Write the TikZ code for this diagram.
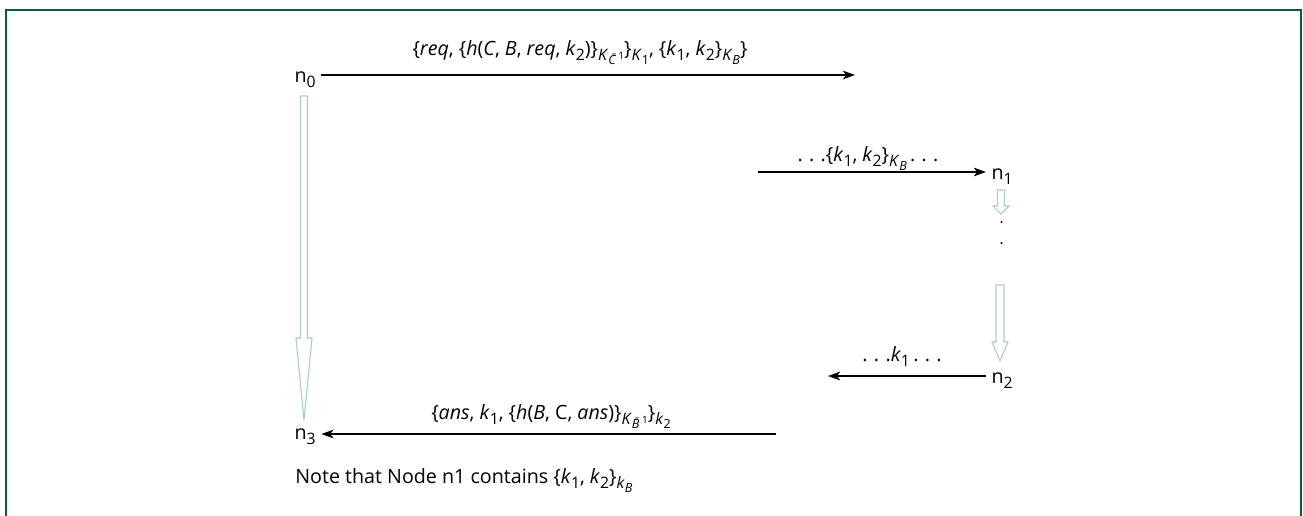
\documentclass[tikz,border=0pt]{standalone}
\usepackage{fontspec}
\setmainfont{Open Sans}
\usepackage{tikz}
\usetikzlibrary{arrows.meta, positioning}

\definecolor{framegreen}{HTML}{0B5C36}
\definecolor{hollowteal}{HTML}{A8CEC4}
\makeatletter
\newcommand{\tsub}[1]{\raisebox{-0.28em}{\fontsize{\fpeval{0.8*\f@size}}{0}\selectfont #1}}
\newcommand{\tsup}[1]{\raisebox{0.42em}{\fontsize{\fpeval{0.8*\f@size}}{0}\selectfont #1}}
\makeatother
\newcommand{\ddd}{.\hspace{.32em}.\hspace{.32em}.}

\begin{document}
\begin{tikzpicture}[x=0.02cm, y=-0.02cm, font=\fontsize{11.2}{13}\selectfont,
                msg/.style={line width=0.75pt, -{Stealth[length=7pt, width=5pt, inset=2pt]}},
                hollow/.style={draw=hollowteal, line width=0.6pt, fill=white},
                lbl/.style={anchor=base, inner sep=0pt},
                peer/.style={anchor=base west, inner xsep=3pt, inner ysep=1pt}]
                \useasboundingbox (0,0) rectangle (1303,515);

                % Frame
                \draw[framegreen, line width=1.15pt] (6,516) -- (6,10) -- (1301,10) -- (1301,516);

                % Nodes
                \node[peer] (n0) at (289,82) {n\tsub{0}};
                \node[peer] (n1) at (986,179) {n\tsub{1}};
                \node[peer] (n2) at (986,383) {n\tsub{2}};
                \node[peer] (n3) at (289,439) {n\tsub{3}};

                % Free ends
                \coordinate (e0) at (855,75);
                \coordinate (s1) at (758,172);
                \coordinate (e2) at (828,376);
                \coordinate (s3) at (776,434);

                % Messages
                \draw[msg] (n0.east |- e0) -- (e0);
                \node[lbl] (m0) at (580,55) {\{\textit{req}, \{\textit{h}(\textit{C}, \textit{B}, \textit{req}, \textit{k}\tsub{2})\}\tsub{\textit{K}\tsub{\textit{\=C}\tsup{1}}}\}\tsub{\textit{K}\tsub{1}}, \{\textit{k}\tsub{1}, \textit{k}\tsub{2}\}\tsub{\textit{K}\tsub{\textit{B}}}\}};

                \draw[msg] (s1) -- (n1.west |- s1);
                \node[lbl] (m1) at (868,161) {\ddd\{\textit{k}\tsub{1}, \textit{k}\tsub{2}\}\tsub{\textit{K}\tsub{\textit{B}}}\,\ddd};

                \draw[msg] (n2.west |- e2) -- (e2);
                \node[lbl] (m2) at (902,361) {\ddd\textit{k}\tsub{1}\,\ddd};

                \draw[msg] (s3) -- (n3.east |- s3);
                \node[lbl] (m3) at (551,419) {\{\textit{ans}, \textit{k}\tsub{1}, \{\textit{h}(\textit{B}, C, \textit{ans})\}\tsub{\textit{K}\tsub{\textit{\=B}\tsup{1}}}\}\tsub{\textit{k}\tsub{2}}};

                % Hollow arrows
                \draw[hollow] (300.5,96) -- (307.5,96) -- (307.5,338) -- (312,338) -- (304,420) -- (296,338) -- (300.5,338) -- cycle;
                \draw[hollow] (997.5,190) -- (1004.5,190) -- (1004.5,206) -- (1009,206) -- (1001,214) -- (993,206) -- (997.5,206) -- cycle;
                \draw[hollow] (996,285) -- (1004,285) -- (1004,342) -- (1008,342) -- (1000,361) -- (992,342) -- (996,342) -- cycle;

                % Dots
                \fill (1001.5,222) circle (1.2);
                \fill (1001.5,243) circle (1.2);

                % Note
                \node[anchor=base west, inner sep=0pt] (note) at (295,483) {Note that Node n1 contains \{\textit{k}\tsub{1}, \textit{k}\tsub{2}\}\tsub{\textit{k}\tsub{\textit{B}}}};
            \end{tikzpicture}
\end{document}
